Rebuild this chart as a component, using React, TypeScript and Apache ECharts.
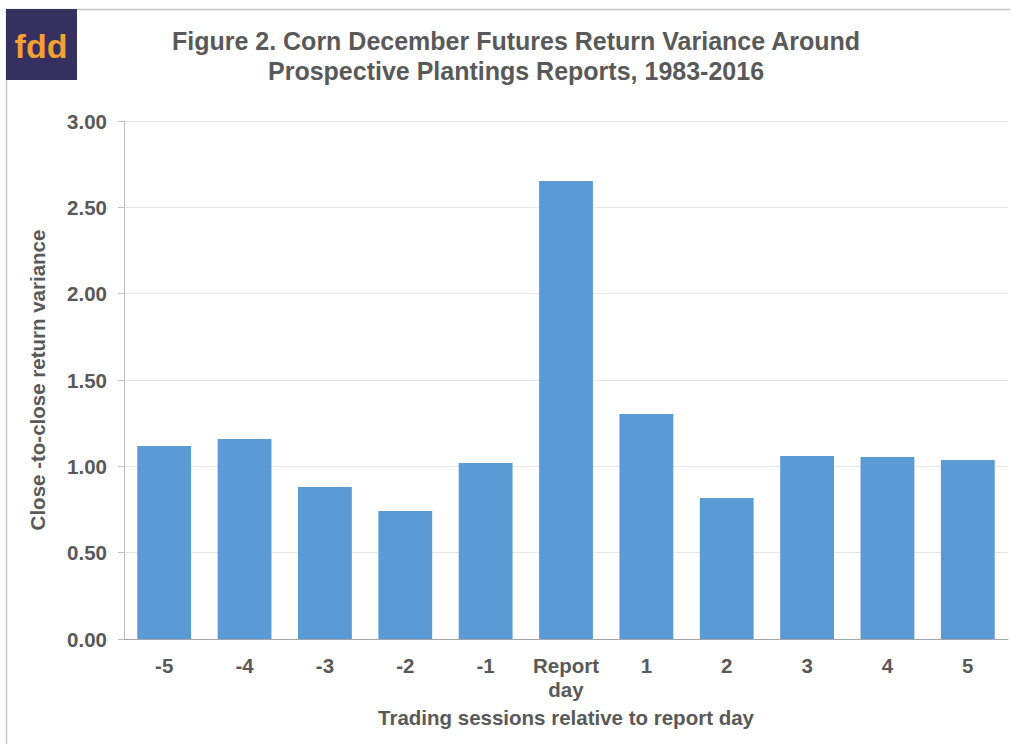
import React, { useEffect, useRef } from "react";
import * as echarts from "echarts";

const categories = ["-5", "-4", "-3", "-2", "-1", "Report\nday", "1", "2", "3", "4", "5"];
const variance = [1.118, 1.158, 0.88, 0.741, 1.019, 2.652, 1.303, 0.816, 1.06, 1.054, 1.036];
const titleLines = ["Figure 2. Corn December Futures Return Variance Around", "Prospective Plantings Reports, 1983-2016"];

export default function App() {
  const ref = useRef<HTMLDivElement>(null);
  useEffect(() => {
    const chart = echarts.init(ref.current!, null, { renderer: "svg" });
    const font = "'Liberation Sans', Arial, sans-serif";
    chart.setOption({
      animation: false,
      backgroundColor: "#ffffff",
      textStyle: { fontFamily: font },
      title: {
        text: titleLines.join("\n"),
        left: 511,
        top: 21,
        textAlign: "center",
        textStyle: { fontSize: 25, fontWeight: "bold", color: "#595959", lineHeight: 30, fontFamily: font },
      },
      grid: { left: 124, right: 3, top: 121, bottom: 105 },
      xAxis: {
        type: "category",
        data: categories,
        name: "Trading sessions relative to report day",
        nameLocation: "middle",
        nameGap: 68,
        nameTextStyle: { fontSize: 20.5, fontWeight: "bold", color: "#595959", fontFamily: font },
        axisLine: { lineStyle: { color: "#a6a6a6", width: 1 } },
        axisTick: { show: false },
        axisLabel: { interval: 0, hideOverlap: false, fontSize: 20.5, fontWeight: "bold", color: "#595959", margin: 14, lineHeight: 24, fontFamily: font },
      },
      yAxis: {
        type: "value",
        min: 0,
        max: 3,
        interval: 0.5,
        name: "Close -to-close return variance",
        nameLocation: "middle",
        nameGap: 76,
        nameTextStyle: { fontSize: 20.5, fontWeight: "bold", color: "#595959", fontFamily: font },
        axisLine: { show: true, lineStyle: { color: "#bfbfbf", width: 1 } },
        axisTick: { show: true, length: 6, lineStyle: { color: "#bfbfbf" } },
        splitLine: { lineStyle: { color: "#e6e6e6", width: 1 } },
        axisLabel: { fontSize: 20.5, fontWeight: "bold", color: "#595959", margin: 17, formatter: (v: number) => v.toFixed(2), fontFamily: font },
      },
      series: [
        {
          type: "bar",
          data: variance,
          barCategoryGap: "33%",
          itemStyle: { color: "#5b9bd5" },
        },
      ],
      graphic: [
        { type: "line", shape: { x1: 6, y1: 9.5, x2: 1010, y2: 9.5 }, style: { stroke: "#c8c8c8", lineWidth: 1.5 } },
        { type: "line", shape: { x1: 6.5, y1: 9, x2: 6.5, y2: 744 }, style: { stroke: "#c8c8c8", lineWidth: 1.5 } },
        { type: "rect", shape: { x: 6, y: 9, width: 71, height: 71 }, style: { fill: "#35305f" } },
        {
          type: "text",
          x: 41,
          y: 46,
          style: { text: "fdd", fill: "#f5a031", font: "bold 34px 'Liberation Sans', Arial, sans-serif", textAlign: "center", textVerticalAlign: "middle" },
        },
      ],
    });
    return () => chart.dispose();
  }, []);
  return <div ref={ref} style={{ position: "fixed", left: 0, top: 0, width: 1011, height: 744 }} />;
}
